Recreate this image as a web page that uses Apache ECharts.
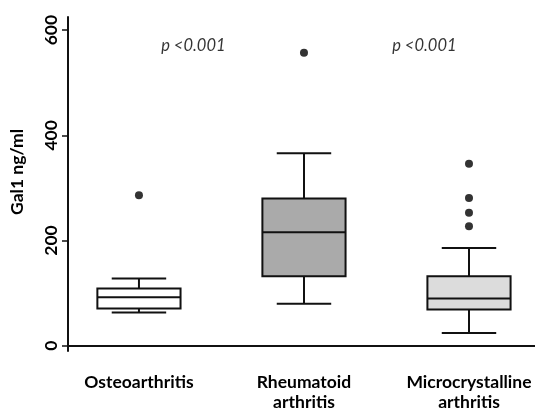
<!DOCTYPE html>
<html>
<head>
<meta charset="utf-8">
<script src="https://cdn.jsdelivr.net/npm/echarts@6/dist/echarts.min.js"></script>
<style>
  html, body { margin: 0; padding: 0; background: #fff; }
  #gal1Chart { width: 535px; height: 412px; }
</style>
</head>
<body>
<div id="gal1Chart"></div>
<script>
// 分组与数值
var categories = ['Osteoarthritis', 'Rheumatoid\narthritis', 'Microcrystalline\narthritis'];
var groupPos = [1, 2, 3];
// [min, Q1, median, Q3, max]
var boxStats = [
  [63, 71, 92, 109, 128],
  [80, 132, 216, 280, 366],
  [24, 69, 90, 132, 186]
];
// 离群点 [组位置, 值]
var outliers = [
  [1, 286],
  [2, 557],
  [3, 346], [3, 281], [3, 253], [3, 227]
];
var yTicks = [0, 200, 400, 600];
var pLabels = ['p <0.001', 'p <0.001'];
var pPos = [[1.33, 570], [2.73, 570]];

var boxFill = ['#ffffff', '#aaaaaa', '#dcdcdc'];
var font = 'Lato, "Open Sans", sans-serif';

var chart = echarts.init(document.getElementById('gal1Chart'));

var boxData = boxStats.map(function (s, i) {
  return [groupPos[i]].concat(s);
});

var option = {
  backgroundColor: '#fff',
  animation: false,
  grid: { left: 68, right: 0, top: 17, bottom: 61 },
  xAxis: {
    type: 'value',
    min: 0.57,
    max: 3.4,
    splitLine: { show: false },
    axisLine: { show: true, lineStyle: { color: '#111', width: 2 } },
    axisTick: { show: false },
    axisLabel: {
      customValues: groupPos,
      margin: 21,
      lineHeight: 20,
      color: '#000',
      fontFamily: font,
      fontWeight: 'bold',
      fontSize: 17.5,
      formatter: function (v) {
        var idx = groupPos.indexOf(Math.round(v));
        return idx >= 0 ? categories[idx] : '';
      }
    }
  },
  yAxis: {
    type: 'value',
    min: -10,
    max: 625,
    name: 'Gal1 ng/ml',
    nameLocation: 'middle',
    nameGap: 42,
    nameRotate: 90,
    nameTextStyle: { color: '#000', fontFamily: font, fontWeight: 'bold', fontSize: 17.5, padding: [0, 0, 0, 24] },
    splitLine: { show: false },
    axisLine: { show: true, lineStyle: { color: '#111', width: 2 } },
    axisTick: { show: true, customValues: yTicks, length: 6, lineStyle: { color: '#111', width: 1.5 } },
    axisLabel: {
      customValues: yTicks,
      rotate: 90,
      margin: 8,
      color: '#000',
      fontFamily: font,
      fontWeight: 'bold',
      fontSize: 17.5
    }
  },
  series: [{
    type: 'custom',
    data: boxData,
    encode: { x: 0, y: [1, 2, 3, 4, 5] },
    renderItem: function (params, api) {
      var x = api.value(0);
      var pMin = api.coord([x, api.value(1)]);
      var pQ1 = api.coord([x, api.value(2)]);
      var pMed = api.coord([x, api.value(3)]);
      var pQ3 = api.coord([x, api.value(4)]);
      var pMax = api.coord([x, api.value(5)]);
      var halfBox = api.size([0.252, 0])[0];
      var halfCap = api.size([0.165, 0])[0];
      var cx = pMed[0];
      var stroke = { stroke: '#111', lineWidth: 2, fill: null };
      return {
        type: 'group',
        children: [
          { type: 'line', shape: { x1: cx, y1: pQ3[1], x2: cx, y2: pMax[1] }, style: stroke },
          { type: 'line', shape: { x1: cx, y1: pQ1[1], x2: cx, y2: pMin[1] }, style: stroke },
          { type: 'line', shape: { x1: cx - halfCap, y1: pMax[1], x2: cx + halfCap, y2: pMax[1] }, style: stroke },
          { type: 'line', shape: { x1: cx - halfCap, y1: pMin[1], x2: cx + halfCap, y2: pMin[1] }, style: stroke },
          {
            type: 'rect',
            shape: { x: cx - halfBox, y: pQ3[1], width: halfBox * 2, height: pQ1[1] - pQ3[1] },
            style: { fill: boxFill[params.dataIndex], stroke: '#111', lineWidth: 2 }
          },
          { type: 'line', shape: { x1: cx - halfBox, y1: pMed[1], x2: cx + halfBox, y2: pMed[1] }, style: stroke }
        ]
      };
    }
  }, {
    type: 'scatter',
    data: outliers,
    symbol: 'circle',
    symbolSize: 8,
    itemStyle: { color: '#000' }
  }, {
    type: 'scatter',
    data: pPos.map(function (p, i) { return { value: p, name: pLabels[i] }; }),
    symbolSize: 0,
    label: {
      show: true,
      position: 'inside',
      formatter: '{b}',
      color: '#000',
      fontFamily: font,
      fontStyle: 'italic',
      fontSize: 16.5
    }
  }]
};

chart.setOption(option);
</script>
</body>
</html>
